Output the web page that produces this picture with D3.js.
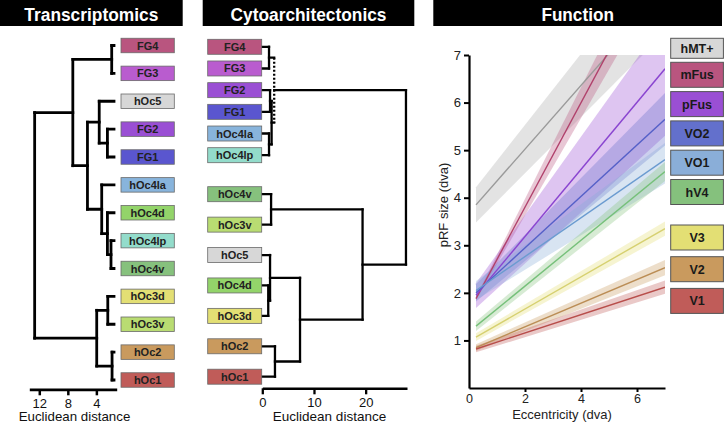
<!DOCTYPE html>
<html><head><meta charset="utf-8">
<script src="https://cdn.jsdelivr.net/npm/d3@7"></script>
<style>
html,body{margin:0;padding:0;background:#fff;}
svg{display:block;font-family:"Liberation Sans",Arial,Helvetica,sans-serif;}
</style></head><body>
<svg id="c" width="728" height="423"></svg>
<script>
// ---------------- DATA ----------------
const titles = ["Transcriptomics", "Cytoarchitectonics", "Function"];

// Transcriptomics dendrogram (leaves top→bottom, merges: [childA, childB, distance])
const transLeaves = ["FG4","FG3","hOc5","FG2","FG1","hOc4la","hOc4d","hOc4lp","hOc4v","hOc3d","hOc3v","hOc2","hOc1"];
const transColors = ["#b9557f","#b95ccf","#d7d7d7","#9a4fd4","#5a56cf","#88b4dc","#93d46a","#93dccb","#86c17d","#e3df74","#b9dc72","#c99a5e","#c05c59"];
const transMerges = [
  [0, 1, 1.85],   // 13
  [3, 4, 2.45],   // 14
  [2, 14, 3.6],   // 15
  [7, 8, 1.95],   // 16
  [6, 16, 2.45],  // 17
  [5, 17, 3.25],  // 18
  [15, 18, 5.25], // 19
  [13, 19, 7.3],  // 20
  [9, 10, 2.4],   // 21
  [11, 12, 1.8],  // 22
  [21, 22, 3.95], // 23
  [20, 23, 12.65] // 24
];
const transTicks = [12, 8, 4];

// Cytoarchitectonics dendrogram
const cytoLeaves = ["FG4","FG3","FG2","FG1","hOc4la","hOc4lp","hOc4v","hOc3v","hOc5","hOc4d","hOc3d","hOc2","hOc1"];
const cytoColors = ["#b9557f","#b95ccf","#9a4fd4","#5a56cf","#88b4dc","#93dccb","#86c17d","#b9dc72","#d7d7d7","#93d46a","#e3df74","#c99a5e","#c05c59"];
const cytoGroups = [0,0,0,0,0,0,1,1,1,1,1,1,1];
const cytoMerges = [
  [0, 1, 1.3],    // 13
  [2, 3, 1.5],    // 14
  [4, 5, 1.3],    // 15
  [14, 15, 1.8],  // 16
  [13, 16, 2.3],  // 17 (uncertain link)
  [6, 7, 1.7],    // 18
  [9, 10, 1.15],  // 19
  [8, 19, 1.5],   // 20
  [11, 12, 2.45], // 21
  [20, 21, 7.3],  // 22
  [18, 22, 19.4], // 23
  [17, 23, 27.8]  // 24
];
const cytoUncertainMerge = 4;
const cytoTicks = [0, 10, 20];

// Function: pRF size vs eccentricity (linear fits with confidence bands)
const fnAreas   = ["hMT+","mFus","pFus","VO2","VO1","hV4","V3","V2","V1"];
const fnColors  = ["#d7d7d7","#b9557f","#9a4fd4","#6370cc","#8aaed8","#85c17d","#e3df74","#c99a5e","#c05c59"];
const fnLineColors = ["#9a9a9a","#b0416b","#8a45d0","#5560c8","#6b9bd0","#76c07a","#d6d070","#bb8d55","#b84e4b"];
const fnBandColors = ["#aaaaaa","#b9557f","#9a4fd4","#6370cc","#8aaed8","#85c17d","#e3df74","#c99a5e","#c05c59"];
const fnEcc     = [0.25, 7];
const fnStart   = [3.85, 1.88, 1.95, 2.00, 2.05, 1.30, 1.07, 0.85, 0.82];
const fnEnd     = [8.37, 9.29, 6.71, 5.65, 4.80, 4.55, 3.35, 2.53, 2.12];
const fnLoStart = [3.48, 1.84, 1.68, 1.82, 1.85, 1.20, 0.99, 0.78, 0.75];
const fnHiStart = [4.22, 1.92, 2.20, 2.18, 2.25, 1.40, 1.15, 0.92, 0.89];
const fnLoEnd   = [7.47, 8.74, 5.30, 5.10, 4.30, 4.35, 3.20, 2.37, 1.98];
const fnHiEnd   = [9.27, 9.84, 7.75, 6.20, 5.15, 4.75, 3.50, 2.69, 2.26];
const fnXTicks = [0, 2, 4, 6];
const fnYTicks = [1, 2, 3, 4, 5, 6, 7];

// ---------------- DRAW ----------------
const svg = d3.select("#c");
const FONT = "Liberation Sans, Arial, sans-serif";

// Title bars
const titleBars = [[0, 182.7, 134], [202.7, 414.3, 156], [433.3, 722, 72.5]];
titles.forEach((t, i) => {
  const [x0, x1, w] = titleBars[i];
  svg.append("rect").attr("x", x0).attr("y", 0).attr("width", x1 - x0).attr("height", 26).attr("fill", "#000");
  svg.append("text").attr("x", (x0 + x1) / 2).attr("y", 20.5).attr("text-anchor", "middle")
    .attr("fill", "#fff").attr("font-weight", "bold").attr("font-size", 18)
    .attr("textLength", w).attr("lengthAdjust", "spacingAndGlyphs").text(t);
});

function drawDendro(g, leafX, yOf, merges, xScale, width, dottedIdx) {
  const nodes = d3.range(yOf.length).map(i => ({x: leafX[i], y: yOf[i]}));
  merges.forEach(([a, b, h], k) => {
    const A = nodes[a], B = nodes[b];
    const x = xScale(h);
    g.append("path").attr("d", `M${A.x},${A.y}H${x}M${B.x},${B.y}H${x}`)
      .attr("stroke", "#000").attr("stroke-width", width).attr("fill", "none").attr("stroke-linecap", "square");
    const v = g.append("path").attr("d", `M${x},${A.y}V${B.y}`)
      .attr("stroke", "#000").attr("stroke-width", width).attr("fill", "none");
    if (k === dottedIdx) v.attr("stroke-dasharray", "2,2");
    else v.attr("stroke-linecap", "square");
    nodes.push({x: x, y: (A.y + B.y) / 2});
  });
}

function drawLabels(g, names, colors, x, w, h, yOf) {
  names.forEach((n, i) => {
    g.append("rect").attr("x", x).attr("y", yOf[i] - h / 2).attr("width", w).attr("height", h)
      .attr("fill", colors[i]).attr("stroke", "#6a6a6a").attr("stroke-width", 0.8);
    g.append("text").attr("x", x + w / 2).attr("y", yOf[i] + 4).attr("text-anchor", "middle")
      .attr("font-weight", "bold").attr("font-size", 11).attr("fill", "#222").text(n);
  });
}

// --- Transcriptomics ---
{
  const g = svg.append("g");
  const yS = d3.scalePoint().domain(d3.range(transLeaves.length)).range([45.5, 380]);
  const ys = transLeaves.map((_, i) => yS(i));
  const xS = d3.scaleLinear().domain([13.4, 1.15]).range([29.3, 116.7]);
  const boxX = 121, boxW = 53.3;
  drawDendro(g, ys.map(() => boxX - 7), ys, transMerges, xS, 2.8, -1);
  drawLabels(g, transLeaves, transColors, boxX, boxW, 14.5, ys);
  const ax = g.append("g").attr("transform", "translate(0,389.3)")
    .call(d3.axisBottom(xS).tickValues(transTicks).tickFormat(d3.format("d")).tickSize(6).tickSizeOuter(0).tickPadding(3));
  ax.select(".domain").attr("stroke-width", 2.8);
  ax.selectAll(".tick line").attr("stroke-width", 2.5);
  ax.selectAll(".tick text").attr("font-size", 13).attr("fill", "#111").attr("font-family", FONT);
  g.append("text").attr("x", 74.5).attr("y", 421).attr("text-anchor", "middle").attr("font-size", 13.3).attr("fill", "#111").text("Euclidean distance");
}

// --- Cytoarchitectonics ---
{
  const g = svg.append("g");
  const yA = d3.scalePoint().domain(d3.range(6)).range([46.8, 155.2]);
  const yB = d3.scalePoint().domain(d3.range(7)).range([194.2, 376.7]);
  let c0 = 0, c1 = 0;
  const ys = cytoGroups.map(gr => gr === 0 ? yA(c0++) : yB(c1++));
  const xS = d3.scaleLinear().domain([0, 28]).range([262.3, 407]);
  const boxX = 207.7, boxW = 54;
  drawDendro(g, ys.map(() => boxX + boxW), ys, cytoMerges, xS, 2.3, cytoUncertainMerge);
  drawLabels(g, cytoLeaves, cytoColors, boxX, boxW, 15, ys);
  const ax = g.append("g").attr("transform", "translate(0,388.3)")
    .call(d3.axisBottom(xS).tickValues(cytoTicks).tickFormat(d3.format("d")).tickSize(6).tickSizeOuter(0).tickPadding(3));
  ax.select(".domain").attr("stroke-width", 2.6);
  ax.selectAll(".tick line").attr("stroke-width", 2.3);
  ax.selectAll(".tick text").attr("font-size", 13).attr("fill", "#111").attr("font-family", FONT);
  g.append("text").attr("x", 329.5).attr("y", 421).attr("text-anchor", "middle").attr("font-size", 13.5).attr("fill", "#111").text("Euclidean distance");
}

// --- Function ---
{
  const g = svg.append("g");
  const x = d3.scaleLinear().domain([0, 7]).range([469, 665]);
  const y = d3.scaleLinear().domain([0, 7]).range([388, 55]);
  svg.append("defs").append("clipPath").attr("id", "plotclip")
    .append("rect").attr("x", x(0)).attr("y", y(7)).attr("width", x(7) - x(0)).attr("height", y(0) - y(7));
  const plot = g.append("g").attr("clip-path", "url(#plotclip)");
  const area = d3.area().x(d => x(d.e)).y0(d => y(d.lo)).y1(d => y(d.hi));
  const line = d3.line().x(d => x(d.e)).y(d => y(d.v));
  fnAreas.forEach((a, i) => {
    const pts = [
      {e: fnEcc[0], lo: fnLoStart[i], hi: fnHiStart[i]},
      {e: fnEcc[1], lo: fnLoEnd[i], hi: fnHiEnd[i]}
    ];
    plot.append("path").datum(pts).attr("d", area).attr("fill", fnBandColors[i]).attr("fill-opacity", 0.33);
  });
  fnAreas.forEach((a, i) => {
    const pts = [{e: fnEcc[0], v: fnStart[i]}, {e: fnEcc[1], v: fnEnd[i]}];
    plot.append("path").datum(pts).attr("d", line).attr("fill", "none").attr("stroke", fnLineColors[i]).attr("stroke-width", 1.4);
  });
  const ay = g.append("g").attr("transform", `translate(${x(0)},0)`)
    .call(d3.axisLeft(y).tickValues(fnYTicks).tickFormat(d3.format("d")).tickSize(5).tickSizeOuter(0).tickPadding(3));
  ay.select(".domain").attr("stroke-width", 2.2);
  ay.selectAll(".tick line").attr("stroke-width", 2);
  ay.selectAll(".tick text").attr("font-size", 13).attr("fill", "#222").attr("font-family", FONT);
  const ax = g.append("g").attr("transform", `translate(0,${y(0)})`)
    .call(d3.axisBottom(x).tickValues(fnXTicks).tickFormat(d3.format("d")).tickSize(4).tickSizeOuter(0).tickPadding(2));
  ax.select(".domain").attr("stroke-width", 2.2);
  ax.selectAll(".tick line").attr("stroke-width", 2).filter(d => d === 0).attr("opacity", 0);
  ax.selectAll(".tick text").attr("font-size", 12.5).attr("fill", "#222").attr("font-family", FONT);
  g.append("text").attr("x", 562).attr("y", 419).attr("text-anchor", "middle").attr("font-size", 13).attr("fill", "#222").text("Eccentricity (dva)");
  g.append("text").attr("transform", "translate(448,205) rotate(-90)").attr("text-anchor", "middle").attr("font-size", 13).attr("fill", "#222").text("pRF size (dva)");

  // legend boxes
  const lx = 670.7, lw = 52.7;
  fnAreas.forEach((a, i) => {
    let top, h = 25;
    if (i === 0) { top = 38.3; h = 20; }
    else if (i <= 5) top = 62.3 + (i - 1) * 29.3;
    else top = 225 + (i - 6) * 31.7;
    g.append("rect").attr("x", lx).attr("y", top).attr("width", lw).attr("height", h)
      .attr("fill", fnColors[i]).attr("stroke", "#555").attr("stroke-width", 1);
    g.append("text").attr("x", lx + lw / 2).attr("y", top + h / 2 + 4.5).attr("text-anchor", "middle")
      .attr("font-weight", "bold").attr("font-size", 12.5).attr("fill", "#1a1a1a").text(a);
  });
}
</script>
</body></html>
